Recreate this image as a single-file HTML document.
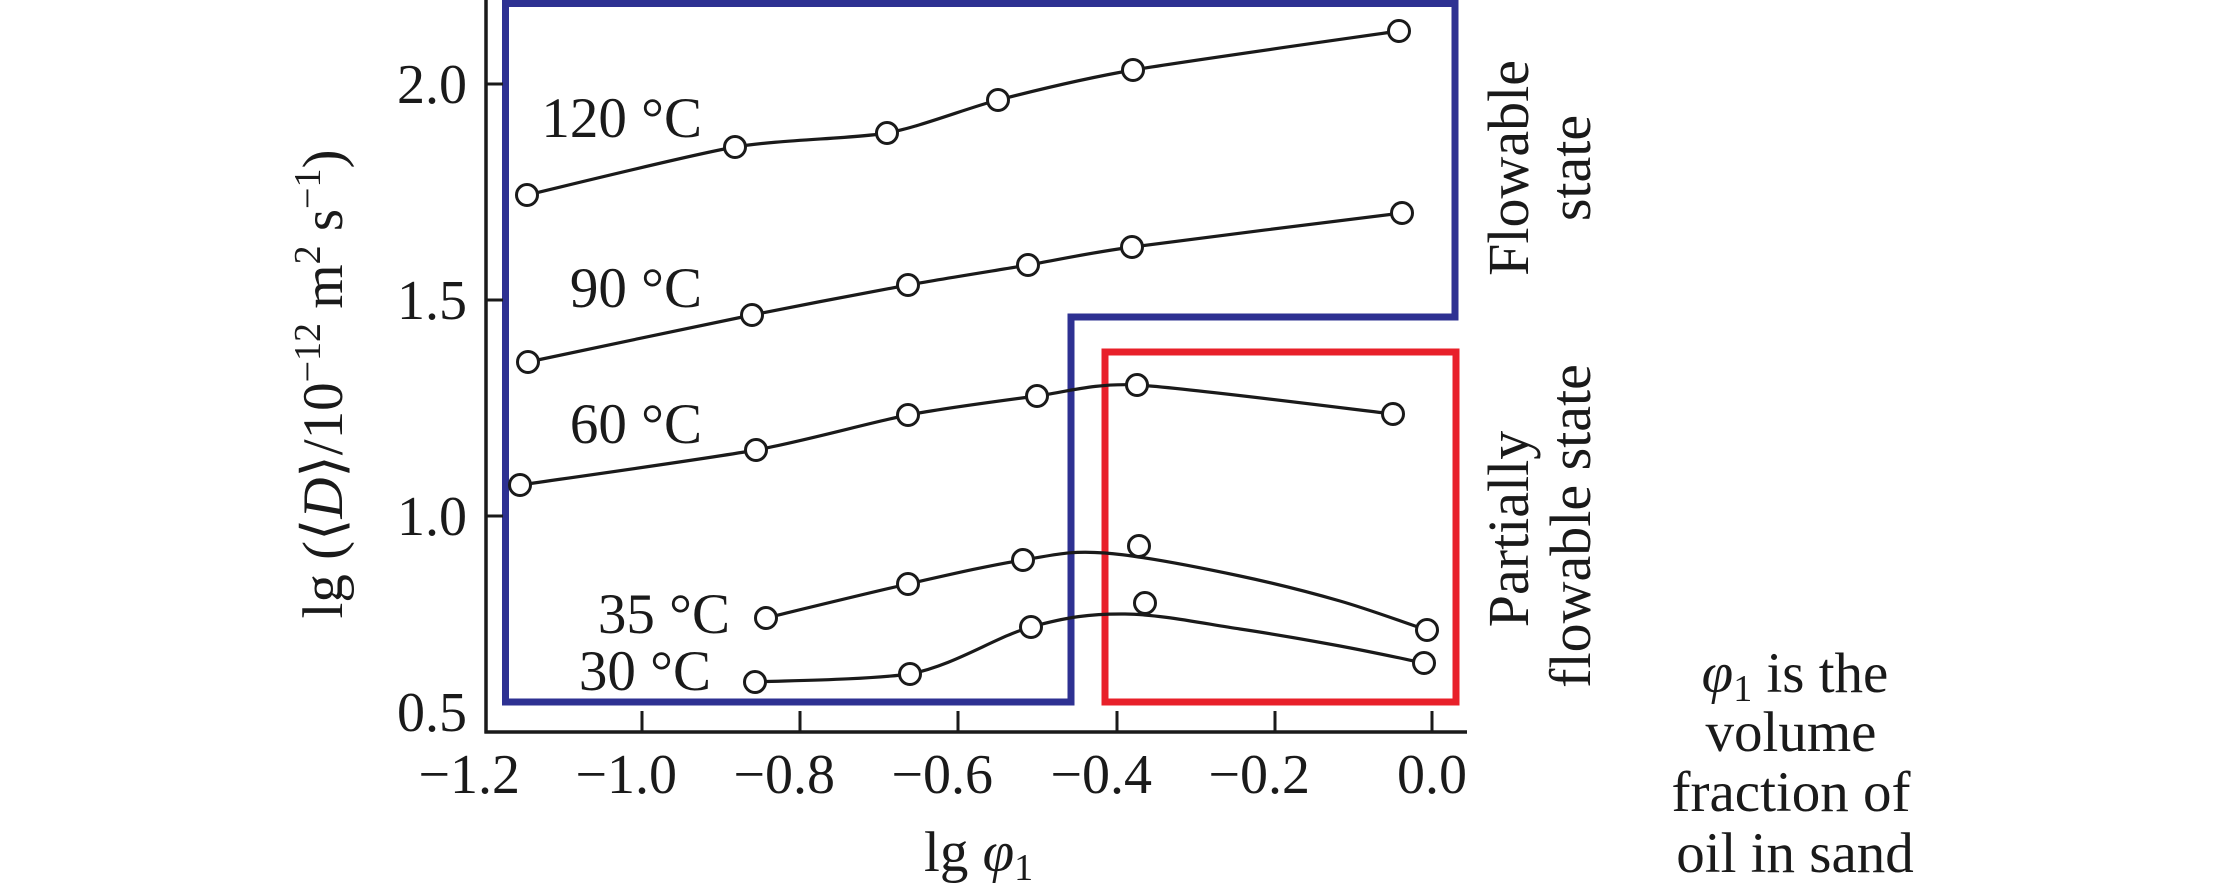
<!DOCTYPE html>
<html>
<head>
<meta charset="utf-8">
<style>
  html, body { margin: 0; padding: 0; background: #ffffff; }
  svg { display: block; }
  text { font-family: "Liberation Serif", "DejaVu Serif", serif; fill: #1a1a1a; }
</style>
</head>
<body>
<svg width="2213" height="886" viewBox="0 0 2213 886" xmlns="http://www.w3.org/2000/svg">
  <rect x="0" y="0" width="2213" height="886" fill="#ffffff"/>

  <!-- Region boxes -->
  <path d="M505.5,3.5 H1455 V317 H1071 V702 H505.5 Z" fill="none" stroke="#2e3192" stroke-width="7" stroke-linejoin="miter"/>
  <rect x="1105" y="352" width="351" height="350" fill="none" stroke="#e8202a" stroke-width="7"/>

  <!-- Axes -->
  <line x1="486" y1="0" x2="486" y2="733.5" stroke="#1a1a1a" stroke-width="3.5"/>
  <line x1="484.5" y1="732" x2="1467" y2="732" stroke="#1a1a1a" stroke-width="3.5"/>

  <!-- Ticks -->
  <g stroke="#1a1a1a" stroke-width="3">
    <line x1="486" y1="84" x2="503" y2="84"/>
    <line x1="486" y1="300" x2="503" y2="300"/>
    <line x1="486" y1="516" x2="503" y2="516"/>
    <line x1="642" y1="711" x2="642" y2="732"/>
    <line x1="800" y1="711" x2="800" y2="732"/>
    <line x1="958" y1="711" x2="958" y2="732"/>
    <line x1="1117" y1="711" x2="1117" y2="732"/>
    <line x1="1275" y1="711" x2="1275" y2="732"/>
    <line x1="1432" y1="711" x2="1432" y2="732"/>
  </g>

  <!-- Y tick labels -->
  <g font-size="56" text-anchor="end">
    <text x="467" y="103">2.0</text>
    <text x="467" y="319">1.5</text>
    <text x="467" y="535">1.0</text>
    <text x="467" y="731">0.5</text>
  </g>

  <!-- X tick labels -->
  <g font-size="56" text-anchor="end">
    <text x="520" y="793">−1.2</text>
    <text x="677" y="793">−1.0</text>
    <text x="835" y="793">−0.8</text>
    <text x="993" y="793">−0.6</text>
    <text x="1152" y="793">−0.4</text>
    <text x="1310" y="793">−0.2</text>
    <text x="1467" y="793">0.0</text>
  </g>

  <!-- Axis titles -->
  <text x="924" y="871" font-size="57">lg <tspan font-style="italic">φ</tspan><tspan font-size="38" dy="9">1</tspan></text>

  <text transform="translate(342,384) rotate(-90)" font-size="57" text-anchor="middle">lg (⟨<tspan font-style="italic">D</tspan>⟩/10<tspan font-size="38" dy="-22">−12</tspan><tspan dy="22"> m</tspan><tspan font-size="38" dy="-22">2</tspan><tspan dy="22"> s</tspan><tspan font-size="38" dy="-22">−1</tspan><tspan dy="22">)</tspan></text>

  <!-- Curves -->
  <g fill="none" stroke="#1a1a1a" stroke-width="3.2" stroke-linecap="round">
    <!-- 120 C -->
    <path d="M527,195 C552,189.2 691.8,154.4 735,147 C778.2,139.6 855.4,138.6 887,133 C918.6,127.4 968.5,107.6 998,100 C1027.5,92.4 1084.9,78.3 1133,70 C1181.1,61.7 1367.1,35.7 1399,31"/>
    <!-- 90 C -->
    <path d="M528,362 C554.9,356.4 706.4,324.2 752,315 C797.6,305.8 874.9,291 908,285 C941.1,279 1001.1,269.6 1028,265 C1054.9,260.4 1087.1,253.2 1132,247 C1176.9,240.8 1369.6,217.1 1402,213"/>
    <!-- 60 C -->
    <path d="M520,485 C548.3,480.8 709.4,458.4 756,450 C802.6,441.6 874.3,421.5 908,415 C941.7,408.5 1009.5,399.6 1037,396 C1064.5,392.4 1094.3,382.8 1137,385 C1179.7,387.2 1362.3,410.5 1393,414"/>
    <!-- 35 C -->
    <path d="M766,618 C789.7,612.3 865.2,593.7 908,584 C950.8,574.3 990.2,565.2 1023,560 C1055.8,554.8 1068.8,550.3 1105,553 C1141.2,555.7 1200.8,567.7 1240,576 C1279.2,584.3 1308.8,592 1340,601 C1371.2,610 1412.5,625.5 1427,630"/>
    <!-- 30 C -->
    <path d="M755,682 C780.8,680.7 864,680 910,674 C956,664.8 995.2,637 1031,627 C1066.8,617 1090.2,613.7 1125,614 C1159.8,614.3 1204.2,623.7 1240,629 C1275.8,634.3 1309.3,640.3 1340,646 C1370.7,651.7 1410,660.2 1424,663"/>
  </g>

  <!-- Markers -->
  <g fill="#ffffff" stroke="#1a1a1a" stroke-width="3">
    <circle cx="527" cy="195" r="10.5"/><circle cx="735" cy="147" r="10.5"/><circle cx="887" cy="133" r="10.5"/>
    <circle cx="998" cy="100" r="10.5"/><circle cx="1133" cy="70" r="10.5"/><circle cx="1399" cy="31" r="10.5"/>

    <circle cx="528" cy="362" r="10.5"/><circle cx="752" cy="315" r="10.5"/><circle cx="908" cy="285" r="10.5"/>
    <circle cx="1028" cy="265" r="10.5"/><circle cx="1132" cy="247" r="10.5"/><circle cx="1402" cy="213" r="10.5"/>

    <circle cx="520" cy="485" r="10.5"/><circle cx="756" cy="450" r="10.5"/><circle cx="908" cy="415" r="10.5"/>
    <circle cx="1037" cy="396" r="10.5"/><circle cx="1137" cy="385" r="10.5"/><circle cx="1393" cy="414" r="10.5"/>

    <circle cx="766" cy="618" r="10.5"/><circle cx="908" cy="584" r="10.5"/><circle cx="1023" cy="560" r="10.5"/>
    <circle cx="1139" cy="546" r="10.5"/><circle cx="1427" cy="630" r="10.5"/>

    <circle cx="755" cy="682" r="10.5"/><circle cx="910" cy="674" r="10.5"/><circle cx="1031" cy="627" r="10.5"/>
    <circle cx="1145" cy="603" r="10.5"/><circle cx="1424" cy="663" r="10.5"/>
  </g>

  <!-- Curve labels -->
  <g font-size="57" text-anchor="end">
    <text x="702" y="137">120 °C</text>
    <text x="702" y="307">90 °C</text>
    <text x="702" y="443">60 °C</text>
    <text x="730" y="633">35 °C</text>
    <text x="711" y="690">30 °C</text>
  </g>

  <!-- Region labels (rotated) -->
  <g font-size="58" text-anchor="middle">
    <text transform="translate(1528,168) rotate(-90)">Flowable</text>
    <text transform="translate(1590,168) rotate(-90)">state</text>
    <text transform="translate(1528,529) rotate(-90)">Partially</text>
    <text transform="translate(1590,526) rotate(-90)">flowable state</text>
  </g>

  <!-- Note -->
  <g font-size="57" text-anchor="middle">
    <text x="1795" y="692"><tspan font-style="italic">φ</tspan><tspan font-size="38" dy="9">1</tspan><tspan dy="-9"> is the</tspan></text>
    <text x="1791" y="751">volume</text>
    <text x="1791" y="811">fraction of</text>
    <text x="1795" y="872">oil in sand</text>
  </g>
</svg>
</body>
</html>
